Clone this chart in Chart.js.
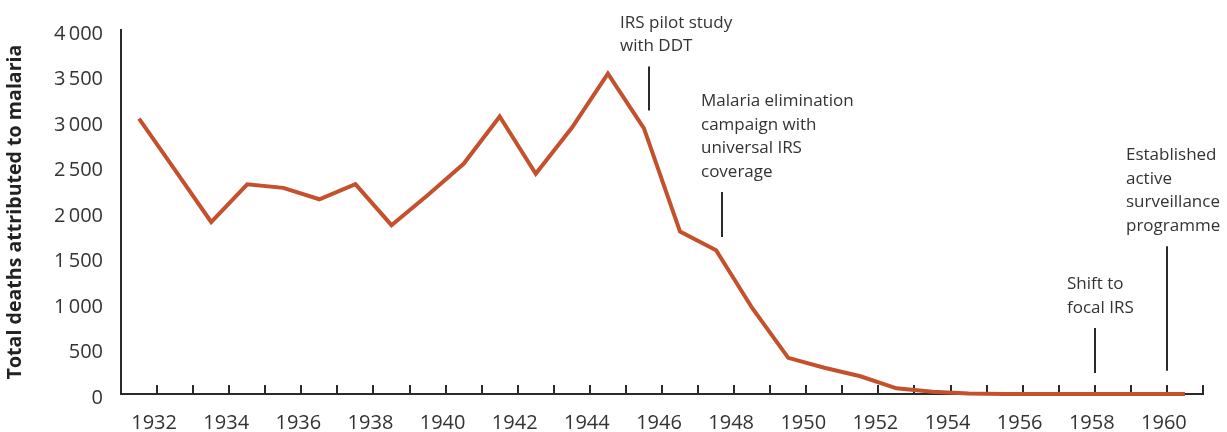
<!DOCTYPE html>
<html>
<head>
<meta charset="utf-8">
<script src="https://cdn.jsdelivr.net/npm/chart.js@4/dist/chart.umd.min.js"></script>
<style>
html,body{margin:0;padding:0;background:#ffffff;}
#wrap{width:1227px;height:432px;position:relative;}
</style>
</head>
<body>
<div id="wrap"><canvas id="c" width="1227" height="432"></canvas></div>
<script>
// ---------- DATA ----------
const years = [1931,1932,1933,1934,1935,1936,1937,1938,1939,1940,
               1941,1942,1943,1944,1945,1946,1947,1948,1949,1950,
               1951,1952,1953,1954,1955,1956,1957,1958,1959,1960];
const deaths = [3025,2460,1890,2305,2265,2140,2305,1855,2185,2530,
                3050,2420,2925,3520,2920,1785,1580,945,397,289,
                195,62,25,5,0,0,0,0,0,0];
const yTickValues = [0,500,1000,1500,2000,2500,3000,3500,4000];
const xLabelYears = [1932,1934,1936,1938,1940,1942,1944,1946,1948,1950,1952,1954,1956,1958,1960];
const eventYears = [1945.65, 1947.65, 1958, 1960];
const eventLabels = [
  ['IRS pilot study','with DDT'],
  ['Malaria elimination','campaign with','universal IRS','coverage'],
  ['Shift to','focal IRS'],
  ['Established','active','surveillance','programme']
];
const yTitle = 'Total deaths attributed to malaria';

// ---------- LAYOUT / STYLE ----------
const eventLayout = {
  lineTop:    [3600, 2220, 725, 1625],
  lineBottom: [3115, 1725, 230, 255],
  textDx:     [-29, -21, -28, -41]
};
const FONT = '"Open Sans", "Noto Sans", "DejaVu Sans", sans-serif';
const TEXT = '#333333';
const AXIS = '#2a2a2a';
const LINE = '#c4502c';

function fmt(v){
  if (v >= 1000) return Math.floor(v/1000) + '\u2009' + String(v % 1000).padStart(3,'0');
  return String(v);
}

const overlay = {
  id: 'overlay',
  beforeDatasetsDraw(chart){
    const {ctx, scales:{x, y}} = chart;
    ctx.save();
    ctx.strokeStyle = AXIS;
    ctx.lineWidth = 2;
    x.ticks.forEach(t => {
      const px = Math.round(x.getPixelForValue(t.value));
      ctx.beginPath();
      ctx.moveTo(px, y.bottom);
      ctx.lineTo(px, y.bottom - 9);
      ctx.stroke();
    });
    ctx.restore();
  },
  afterDatasetsDraw(chart){
    const {ctx, scales:{x, y}} = chart;
    ctx.save();
    eventYears.forEach((yr, i) => {
      const px = Math.round(x.getPixelForValue(yr));
      const top = y.getPixelForValue(eventLayout.lineTop[i]);
      const bot = y.getPixelForValue(eventLayout.lineBottom[i]);
      ctx.strokeStyle = AXIS;
      ctx.lineWidth = 2;
      ctx.beginPath();
      ctx.moveTo(px, top);
      ctx.lineTo(px, bot);
      ctx.stroke();
      ctx.fillStyle = TEXT;
      ctx.font = '17px ' + FONT;
      ctx.textAlign = 'left';
      ctx.textBaseline = 'middle';
      const lines = eventLabels[i];
      const lh = 23.5;
      const lastY = top - 20;
      lines.forEach((s, k) => {
        ctx.fillText(s, px + eventLayout.textDx[i], lastY - (lines.length - 1 - k) * lh);
      });
    });
    ctx.restore();
  }
};

new Chart(document.getElementById('c'), {
  type: 'line',
  data: {
    datasets: [{
      data: years.map((yr, i) => ({x: yr + 0.5, y: deaths[i]})),
      borderColor: LINE,
      borderWidth: 4,
      pointRadius: 0,
      tension: 0,
      borderJoinStyle: 'miter',
      clip: false
    }]
  },
  options: {
    responsive: false,
    animation: false,
    devicePixelRatio: 1,
    layout: { padding: { top: 24, right: 24, left: 0, bottom: 0 } },
    plugins: { legend: { display: false }, tooltip: { enabled: false } },
    scales: {
      x: {
        type: 'linear',
        min: years[0],
        max: years[years.length - 1] + 1,
        grid: { display: false, drawTicks: false },
        border: { display: true, color: AXIS, width: 2 },
        ticks: {
          stepSize: 1,
          autoSkip: false,
          maxRotation: 0,
          padding: 17,
          labelOffset: -3,
          color: TEXT,
          font: { family: FONT, size: 20 },
          callback: (v) => xLabelYears.includes(v) ? String(v) : ''
        },
        afterFit(s){ s.height = 38; }
      },
      y: {
        min: yTickValues[0],
        max: yTickValues[yTickValues.length - 1],
        grid: { display: false, drawTicks: false },
        border: { display: true, color: AXIS, width: 2 },
        afterBuildTicks(s){ s.ticks = yTickValues.map(v => ({value: v})); },
        ticks: {
          padding: 18,
          labelOffset: 4,
          color: TEXT,
          font: { family: FONT, size: 20 },
          callback: (v) => fmt(v)
        },
        title: {
          display: true,
          text: yTitle,
          color: '#222222',
          font: { family: FONT, size: 19.6, weight: 'bold' },
          padding: { top: 4, bottom: 0 }
        },
        afterFit(s){ s.width = 121; }
      }
    }
  },
  plugins: [overlay]
});
</script>
</body>
</html>
